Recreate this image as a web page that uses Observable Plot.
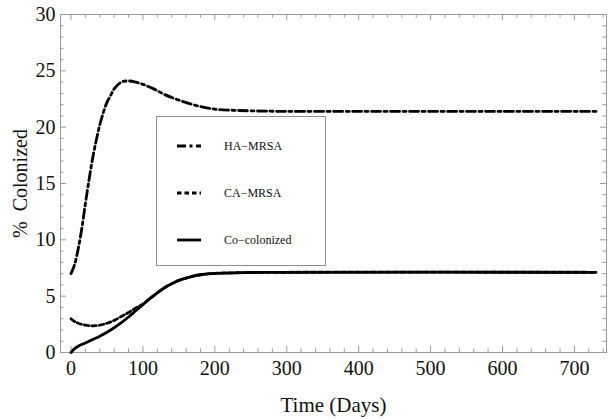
<!DOCTYPE html>
<html>
<head>
<meta charset="utf-8">
<script src="https://cdn.jsdelivr.net/npm/d3@7"></script>
<script src="https://cdn.jsdelivr.net/npm/@observablehq/plot@0.6"></script>
<style>
  html, body { margin: 0; padding: 0; background: #fff; }
  #wrap { position: relative; width: 614px; height: 419px; }
  #wrap svg text { font-family: "Liberation Serif", "Times New Roman", Times, serif; }
  #legend { position: absolute; left: 156px; top: 116px; width: 170px; height: 150px;
            border: 1px solid #8c8c8c; background: #fff; box-sizing: border-box;
            font-family: "Liberation Serif", "Times New Roman", Times, serif; font-size: 12px; color: #111; }
  .item { position: absolute; left: 20px; height: 14px; display: flex; align-items: center; }
  .item svg { width: 24px; height: 6px; margin-right: 23px; }
</style>
</head>
<body>
<div id="wrap"><div id="legend"></div></div>
<script>
// ---- data ----
const haDays = [0,5,10,15,20,25,30,35,40,45,50,55,60,70,80,90,100,115,130,150,175,200,225,250,300,400,500,600,730];
const haVals = [7.0,7.8,9.2,11.0,13.2,15.3,17.2,18.8,20.2,21.3,22.2,22.8,23.4,24.0,24.1,24.0,23.8,23.4,22.9,22.4,21.9,21.6,21.5,21.45,21.4,21.4,21.4,21.4,21.4];

const caDays = [0,5,10,15,20,25,30,40,50,60,70,80,90,100,110,120,130,140,150,160,170,180,200,250,300,730];
const caVals = [3.0,2.75,2.6,2.5,2.42,2.38,2.37,2.42,2.6,2.85,3.2,3.55,3.95,4.3,4.8,5.3,5.75,6.1,6.4,6.6,6.78,6.9,7.02,7.1,7.12,7.12];

const coDays = [0,5,10,20,30,40,50,60,70,80,90,100,110,120,130,140,150,160,170,180,200,250,300,730];
const coVals = [0,0.35,0.55,0.85,1.15,1.45,1.8,2.2,2.65,3.15,3.7,4.25,4.8,5.3,5.75,6.1,6.4,6.6,6.78,6.9,7.02,7.1,7.12,7.12];

const seriesNames = ["HA\u2212MRSA", "CA\u2212MRSA", "Co\u2212colonized"];
const seriesDash = ["9,3.5,3,3.5", "4.5,3", null];

const xMajor = [0,100,200,300,400,500,600,700];
const xMinor = d3.range(0, 741, 20).filter(d => d % 100 !== 0);
const yMajor = [0,5,10,15,20,25,30];
const yMinor = d3.range(0, 31, 1).filter(d => d % 5 !== 0);
const xDomain = [-14.6, 744.6];
const yDomain = [0, 30];
const xLabel = "Time (Days)";
const yLabel = "%\u00a0 Colonized";

// ---- build ----
const toRows = (days, vals) => days.map((d, i) => ({day: d, v: vals[i]}));
const series = [toRows(haDays, haVals), toRows(caDays, caVals), toRows(coDays, coVals)];

const W = 614, H = 419, mL = 60, mR = 8, mT = 14, mB = 67;
const fw = W - mL - mR, fh = H - mT - mB;
const major = 6, minor = 3.5, tc = "#9a9a9a";
const serif = "'Liberation Serif', 'Times New Roman', Times, serif";

const chart = Plot.plot({
  width: W, height: H,
  marginLeft: mL, marginRight: mR, marginTop: mT, marginBottom: mB,
  x: {domain: xDomain},
  y: {domain: yDomain},
  style: {fontFamily: serif, background: "white", color: "#111"},
  marks: [
    Plot.tickX(xMajor, {x: d => d, insetTop: fh - major, stroke: tc}),
    Plot.tickX(xMinor, {x: d => d, insetTop: fh - minor, stroke: tc}),
    Plot.tickX(xMajor, {x: d => d, insetBottom: fh - major, stroke: tc}),
    Plot.tickX(xMinor, {x: d => d, insetBottom: fh - minor, stroke: tc}),
    Plot.tickY(yMajor, {y: d => d, insetRight: fw - major, stroke: tc}),
    Plot.tickY(yMinor, {y: d => d, insetRight: fw - minor, stroke: tc}),
    Plot.tickY(yMajor, {y: d => d, insetLeft: fw - major, stroke: tc}),
    Plot.tickY(yMinor, {y: d => d, insetLeft: fw - minor, stroke: tc}),
    Plot.frame({stroke: tc}),
    Plot.axisX(xMajor, {tickSize: 0, tickPadding: 8, fontSize: 20, label: null, anchor: "bottom", fontFamily: serif}),
    Plot.axisY(yMajor, {tickSize: 0, tickPadding: 5, fontSize: 20, label: null, anchor: "left", fontFamily: serif}),
    Plot.text([xLabel], {frameAnchor: "bottom", dy: 53, fontSize: 21, lineAnchor: "middle", textAnchor: "middle", fontFamily: serif}),
    Plot.text([yLabel], {frameAnchor: "left", dx: -40, rotate: -90, fontSize: 20, lineAnchor: "middle", textAnchor: "middle", fontFamily: serif}),
    ...series.map((rows, i) => Plot.line(rows, {
      x: "day", y: "v", stroke: "black", strokeWidth: 2.8, curve: "catmull-rom",
      strokeDasharray: seriesDash[i] ?? undefined
    }))
  ]
});

const wrap = document.getElementById("wrap");
wrap.insertBefore(chart, wrap.firstChild);

// legend
const legend = document.getElementById("legend");
const itemTops = [22, 69, 116];
seriesNames.forEach((name, i) => {
  const it = document.createElement("div");
  it.className = "item";
  it.style.top = itemTops[i] + "px";
  const dash = seriesDash[i] ? `stroke-dasharray="${seriesDash[i]}"` : "";
  it.innerHTML = `<svg viewBox="0 0 24 6"><line x1="0" y1="3" x2="24" y2="3" stroke="black" stroke-width="2.8" ${dash}/></svg><span>${name}</span>`;
  legend.appendChild(it);
});
</script>
</body>
</html>
